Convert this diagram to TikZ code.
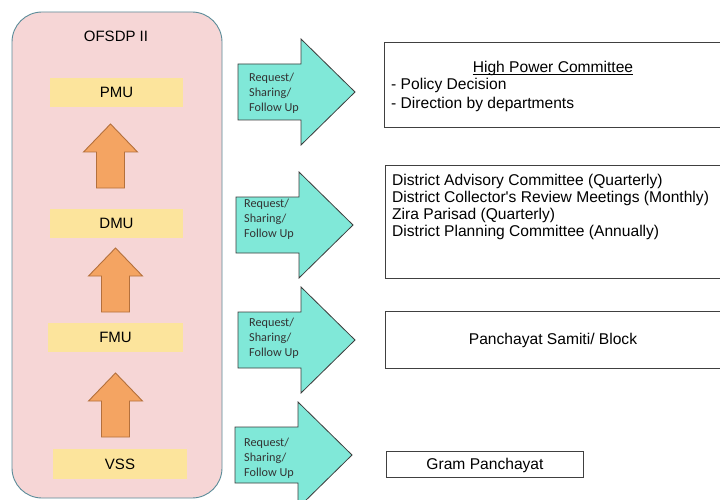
\documentclass[tikz,border=0pt]{standalone}
\usepackage{fontspec}
\setmainfont{Liberation Sans}
\newfontfamily\calibri{Carlito}
\definecolor{panelfill}{HTML}{F6D6D6}
\definecolor{panelline}{HTML}{5B8C99}
\definecolor{unitfill}{HTML}{FCE49C}
\definecolor{upfill}{HTML}{F4A462}
\definecolor{upline}{HTML}{B4703C}
\definecolor{reqfill}{HTML}{80E8D8}
\definecolor{reqline}{HTML}{3C3C3C}
\definecolor{reqtextcol}{HTML}{333333}
\definecolor{boxline}{HTML}{404040}
\begin{document}
\begin{tikzpicture}[x=1pt,y=-1pt,
  panel/.style={draw=panelline, fill=panelfill, line width=0.9pt, rounded corners=30pt},
  unit/.style={fill=unitfill, minimum width=133pt, minimum height=29pt, inner sep=0pt,
    font=\fontsize{15}{17}\selectfont},
  uparrow/.style={fill=upfill, draw=upline, line width=0.9pt, line join=miter},
  reqarrow/.style={fill=reqfill, draw=reqline, line width=0.8pt, line join=miter},
  reqtext/.style={anchor=west, align=left, inner sep=0pt,
    font=\calibri\fontsize{12.2}{15}\selectfont, text=reqtextcol},
  infobox/.style={draw=boxline, line width=0.9pt, fill=white, anchor=north west, inner sep=0pt},
  infotext/.style={font=\fontsize{15.6}{17.5}\selectfont, inner sep=0pt},
  pics/upshape/.style={code={
    \draw[uparrow] (0,0) -- (27,28) -- (14,28) -- (14,64) -- (-14,64) -- (-14,28) -- (-27,28) -- cycle;}},
  pics/reqshape/.style={code={
    \draw[reqarrow] (0,-28) -- (63,-28) -- (63,-53) -- (117,0) -- (63,53) -- (63,28) -- (0,28) -- cycle;}}
]
\useasboundingbox (0,0) rectangle (720,500);
\fill[white] (0,0) rectangle (720,500);

% OFSDP II hierarchy panel
\draw[panel] (12,12) rectangle (222,498);
\node[font=\fontsize{15}{17}\selectfont] (ofsdp) at (116,36) {OFSDP II};

\node[unit] (pmu) at (116.5,92.5) {PMU};
\node[unit] (dmu) at (116.5,223.5) {DMU};
\node[unit, minimum width=135pt] (fmu) at (115.5,337.5) {FMU};
\node[unit, minimum width=134pt, minimum height=30pt] (vss) at (120,464) {VSS};

% upward block arrows between the units
\pic at (110.5,124) {upshape};
\pic at (115.5,248) {upshape};
\pic at (115.5,373) {upshape};

% request / sharing / follow-up arrows
\pic at (238,92) {reqshape};
\pic at (236,225) {reqshape};
\pic at (238,340) {reqshape};
\pic at (235,455) {reqshape};
\node[reqtext] (reqa) at (249,93) {Request/\\Sharing/\\Follow Up};
\node[reqtext] (reqb) at (244,219) {Request/\\Sharing/\\Follow Up};
\node[reqtext] (reqc) at (249,338) {Request/\\Sharing/\\Follow Up};
\node[reqtext] (reqd) at (244,458) {Request/\\Sharing/\\Follow Up};

% counterpart bodies
\node[infobox, minimum width=341pt, minimum height=85pt] (hpc) at (384,42) {};
\node[infotext, anchor=base] (hpctitle) at (553,72.5) {High Power Committee};
\draw[line width=0.7pt] ([yshift=-1.8pt]hpctitle.base west) -- ([yshift=-1.8pt]hpctitle.base east);
\node[infotext, anchor=base west] (hpcpolicy) at (391,89.5) {- Policy Decision};
\node[infotext, anchor=base west] (hpcdirection) at (391,108.5) {- Direction by departments};

\node[infobox, minimum width=340pt, minimum height=113pt] (district) at (385,165) {};
\node[infotext, anchor=base west] (dac) at (392,185.5) {District Advisory Committee (Quarterly)};
\node[infotext, anchor=base west] (dcrm) at (392,202.5) {District Collector\textquotesingle s Review Meetings (Monthly)};
\node[infotext, anchor=base west] (zira) at (392,219.5) {Zira Parisad (Quarterly)};
\node[infotext, anchor=base west] (dpc) at (392,236.5) {District Planning Committee (Annually)};

\node[infobox, minimum width=340pt, minimum height=57pt] (samiti) at (385,311) {};
\node[infotext, anchor=base] (samititext) at (553,344.5) {Panchayat Samiti/ Block};

\node[infobox, minimum width=197pt, minimum height=26pt] (gram) at (386,451) {};
\node[infotext, anchor=base] (gramtext) at (485,469.5) {Gram Panchayat};
\end{tikzpicture}
\end{document}
